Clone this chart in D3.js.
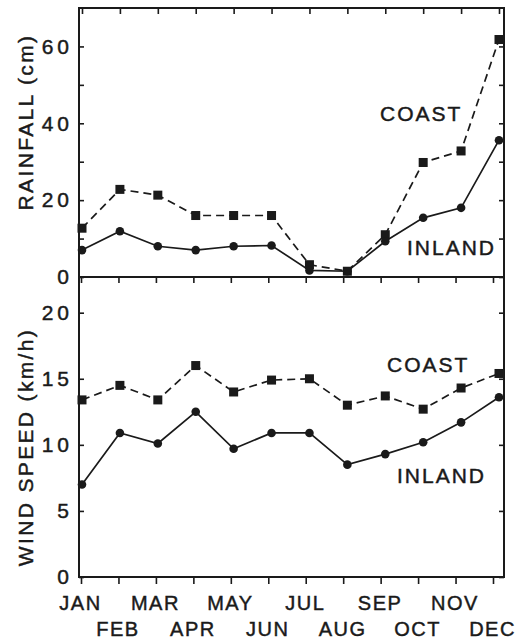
<!DOCTYPE html>
<html>
<head>
<meta charset="utf-8">
<script src="https://cdn.jsdelivr.net/npm/d3@7"></script>
<style>
  body { margin: 0; background: #fff; }
  text { font-family: "Liberation Sans", Arial, sans-serif; fill: #1a1a1a; stroke: #1a1a1a; stroke-width: 0.45px; }
</style>
</head>
<body>
<script>
const months = ['JAN', 'FEB', 'MAR', 'APR', 'MAY', 'JUN', 'JUL', 'AUG', 'SEP', 'OCT', 'NOV', 'DEC'];

// rainfall (cm)
const rainCoast = [12.7, 22.8, 21.3, 16.0, 16.0, 16.0, 3.2, 1.5, 11.0, 29.8, 32.8, 61.8];
const rainInland = [7.0, 11.9, 8.0, 7.0, 8.0, 8.2, 1.7, 1.5, 9.3, 15.4, 18.0, 35.6];

// wind speed (km/h)
const windCoast = [13.4, 14.5, 13.4, 16.0, 14.0, 14.9, 15.0, 13.0, 13.7, 12.7, 14.3, 15.4];
const windInland = [7.0, 10.9, 10.1, 12.5, 9.7, 10.9, 10.9, 8.5, 9.3, 10.2, 11.7, 13.6];

const rainTicks = [0, 10, 20, 30, 40, 50, 60];
const windTicks = [0, 5, 10, 15, 20];

const W = 517, H = 642;
const left = 79, right = 504;
const ink = '#1a1a1a';

const svg = d3.select(document.body).append('svg')
  .attr('width', W)
  .attr('height', H);

const x = d3.scalePoint().domain(months).range([82, 499]);
// month ticks along the bottom sit a little tighter in the original
const xb = x.copy().range([81, 493]);

const panels = [
  {
    top: 8, bottom: 277, domain: [0, 70], ticks: rainTicks,
    fmt: d => (d % 20 ? '' : d),
    coast: rainCoast, inland: rainInland,
    title: 'RAINFALL (cm)', titleY: 122,
    coastLabel: [380, 121], inlandLabel: [407, 255]
  },
  {
    top: 277, bottom: 577, domain: [0, 22.7], ticks: windTicks,
    fmt: d => d,
    coast: windCoast, inland: windInland,
    title: 'WIND SPEED (km/h)', titleY: 447,
    coastLabel: [387, 372], inlandLabel: [397, 483]
  }
];

panels.forEach(p => {
  const y = d3.scaleLinear().domain(p.domain).range([p.bottom, p.top]);
  const g = svg.append('g');

  // left axis, ticks pointing inward
  const la = g.append('g')
    .attr('transform', `translate(${left},0)`)
    .call(d3.axisLeft(y).tickValues(p.ticks).tickFormat(p.fmt)
      .tickSizeInner(-5).tickSizeOuter(0).tickPadding(6));
  la.select('.domain').remove();
  la.selectAll('line').attr('stroke', ink).attr('stroke-width', 1.6);
  la.selectAll('text')
    .attr('font-size', 21)
    .attr('letter-spacing', 4)
    .attr('font-family', '"Liberation Sans", Arial, sans-serif')
    .attr('fill', ink);

  // right axis, no labels
  const ra = g.append('g')
    .attr('transform', `translate(${right},0)`)
    .call(d3.axisRight(y).tickValues(p.ticks).tickFormat('')
      .tickSizeInner(-5).tickSizeOuter(0));
  ra.select('.domain').remove();
  ra.selectAll('line').attr('stroke', ink).attr('stroke-width', 1.6);

  // month ticks along top edge, pointing down
  const ta = g.append('g')
    .attr('transform', `translate(0,${p.top})`)
    .call(d3.axisTop(p.top === 8 ? x : xb).tickFormat('').tickSizeInner(-6).tickSizeOuter(0));
  ta.select('.domain').remove();
  ta.selectAll('line').attr('stroke', ink).attr('stroke-width', 1.6);

  // frame
  g.append('rect')
    .attr('x', left)
    .attr('y', p.top)
    .attr('width', right - left)
    .attr('height', p.bottom - p.top)
    .attr('fill', 'none')
    .attr('stroke', ink)
    .attr('stroke-width', 2);

  // y title
  g.append('text')
    .attr('transform', `translate(33,${p.titleY}) rotate(-90)`)
    .attr('text-anchor', 'middle')
    .attr('font-size', 21)
    .attr('letter-spacing', 2.35)
    .text(p.title);

  const line = d3.line()
    .x((d, i) => x(months[i]))
    .y(d => y(d));

  g.append('path')
    .datum(p.coast)
    .attr('d', line)
    .attr('fill', 'none')
    .attr('stroke', ink)
    .attr('stroke-width', 1.7)
    .attr('stroke-dasharray', '8,5');

  g.append('path')
    .datum(p.inland)
    .attr('d', line)
    .attr('fill', 'none')
    .attr('stroke', ink)
    .attr('stroke-width', 1.7);

  g.selectAll('.sq')
    .data(p.coast)
    .join('rect')
    .attr('class', 'sq')
    .attr('x', (d, i) => x(months[i]) - 4.5)
    .attr('y', d => y(d) - 4.5)
    .attr('width', 9)
    .attr('height', 9)
    .attr('fill', ink);

  g.selectAll('.dot')
    .data(p.inland)
    .join('circle')
    .attr('class', 'dot')
    .attr('cx', (d, i) => x(months[i]))
    .attr('cy', d => y(d))
    .attr('r', 4.3)
    .attr('fill', ink);

  g.append('text')
    .attr('x', p.coastLabel[0])
    .attr('y', p.coastLabel[1])
    .attr('font-size', 21)
    .attr('letter-spacing', 2)
    .text('COAST');

  g.append('text')
    .attr('x', p.inlandLabel[0])
    .attr('y', p.inlandLabel[1])
    .attr('font-size', 21)
    .attr('letter-spacing', 2)
    .text('INLAND');
});

// bottom month axis, ticks pointing out
const ba = svg.append('g')
  .attr('transform', 'translate(0,577)')
  .call(d3.axisBottom(xb).tickFormat('').tickSizeInner(7).tickSizeOuter(0));
ba.select('.domain').remove();
ba.selectAll('line').attr('stroke', ink).attr('stroke-width', 1.6);

svg.append('g')
  .selectAll('text')
  .data(months)
  .join('text')
  .attr('x', d => xb(d) - 0.5)
  .attr('y', (d, i) => (i % 2 ? 636 : 610))
  .attr('text-anchor', 'middle')
  .attr('font-size', 20)
  .attr('letter-spacing', 1.5)
  .text(d => d);
</script>
</body>
</html>
